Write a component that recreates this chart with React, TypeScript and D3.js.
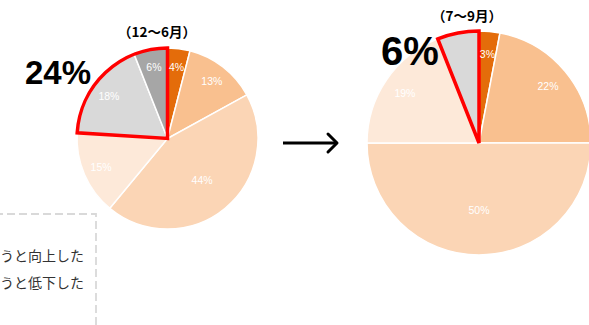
import React from "react";
import * as d3 from "d3";

const W = 589;
const H = 325;

const leftCategories = ["a", "b", "c", "d", "e", "f"];
const leftValues = [4, 13, 44, 15, 18, 6];
const leftColors = ["#E46C0A", "#F9C08F", "#FBD5B5", "#FDE9D9", "#D9D9D9", "#A6A6A6"];
const leftHighlight = [4, 5];
const leftTitle = "（12～6月）";
const leftBig = "24%";

const rightCategories = ["a", "b", "c", "d", "e"];
const rightValues = [3, 22, 50, 19, 6];
const rightColors = ["#E46C0A", "#F9C08F", "#FBD5B5", "#FDE9D9", "#D9D9D9"];
const rightHighlight = [4];
const rightHiddenLabels = [4];
const rightTitle = "（7～9月）";
const rightBig = "6%";

const noteLines = ["うと向上した", "うと低下した"];

type PieProps = {
  cx: number;
  cy: number;
  r: number;
  values: number[];
  colors: string[];
  cats: string[];
  highlight: number[];
  hidden?: number[];
};

function Pie({ cx, cy, r, values, colors, cats, highlight, hidden = [] }: PieProps) {
  const pie = d3.pie<number>().sort(null).value((d) => d);
  const arcs = pie(values);
  const arc = d3.arc<d3.PieArcDatum<number>>().innerRadius(0).outerRadius(r);
  const labelArcSmall = d3.arc<d3.PieArcDatum<number>>().innerRadius(r * 0.8).outerRadius(r * 0.8);
  const labelArcBig = d3.arc<d3.PieArcDatum<number>>().innerRadius(r * 0.6).outerRadius(r * 0.6);
  const hl = arcs.filter((_, i) => highlight.includes(i));
  const hlArc = {
    startAngle: d3.min(hl, (a) => a.startAngle)!,
    endAngle: d3.max(hl, (a) => a.endAngle)!,
  };
  const hlPath = d3.arc().innerRadius(0).outerRadius(r)(hlArc as any) as string;
  return (
    <g transform={`translate(${cx},${cy})`}>
      {arcs.map((a, i) => (
        <path key={cats[i]} d={arc(a) as string} fill={colors[i]} stroke="#fff" strokeWidth={1.5} />
      ))}
      <path d={hlPath} fill="none" stroke="#FF0000" strokeWidth={3.5} strokeLinejoin="miter" />
      {arcs.map((a, i) => {
        if (hidden.includes(i)) return null;
        const big = a.endAngle - a.startAngle > Math.PI * 0.7;
        const [x, y] = (big ? labelArcBig : labelArcSmall).centroid(a);
        return (
          <text
            key={"l" + cats[i]}
            x={x}
            y={y}
            textAnchor="middle"
            dominantBaseline="central"
            fill="#fff"
            fontSize={10.5}
            fontFamily="'Liberation Sans', Arial, sans-serif"
          >
            {values[i]}%
          </text>
        );
      })}
    </g>
  );
}

export default function App() {
  return (
    <svg width={W} height={H} style={{ position: "absolute", left: 0, top: 0, background: "#fff" }}>
      <rect x={0} y={0} width={W} height={H} fill="#fff" />
      <path
        d={`M-5,214 L96,214 L96,${H + 5}`}
        fill="none"
        stroke="#D9D9D9"
        strokeWidth={1.8}
        strokeDasharray="8,4"
      />
      {noteLines.map((t, i) => (
        <text
          key={t}
          x={84}
          y={255 + i * 27}
          textAnchor="end"
          dominantBaseline="central"
          fontSize={14}
          fill="#333"
          fontFamily="'Noto Sans CJK JP', sans-serif"
        >
          {t}
        </text>
      ))}

      <Pie cx={167.5} cy={138.5} r={90.5} values={leftValues} colors={leftColors} cats={leftCategories} highlight={leftHighlight} />
      <Pie
        cx={479}
        cy={143}
        r={112}
        values={rightValues}
        colors={rightColors}
        cats={rightCategories}
        highlight={rightHighlight}
        hidden={rightHiddenLabels}
      />

      <text x={157} y={31} textAnchor="middle" dominantBaseline="central" fontSize={13.5} fontWeight="bold" fill="#000" fontFamily="'Noto Sans CJK JP', sans-serif">
        {leftTitle}
      </text>
      <text x={467} y={15} textAnchor="middle" dominantBaseline="central" fontSize={13.5} fontWeight="bold" fill="#000" fontFamily="'Noto Sans CJK JP', sans-serif">
        {rightTitle}
      </text>

      <text x={58} y={72} textAnchor="middle" dominantBaseline="central" fontSize={33} fontWeight="bold" fill="#000" fontFamily="'Liberation Sans', Arial, sans-serif">
        {leftBig}
      </text>
      <text x={410} y={51} textAnchor="middle" dominantBaseline="central" fontSize={40} fontWeight="bold" fill="#000" fontFamily="'Liberation Sans', Arial, sans-serif">
        {rightBig}
      </text>

      <g stroke="#000" strokeWidth={3} fill="none">
        <line x1={283} y1={143} x2={337} y2={143} />
        <polyline points="328,134 337,143 328,152" strokeLinecap="round" strokeLinejoin="round" />
      </g>
    </svg>
  );
}
